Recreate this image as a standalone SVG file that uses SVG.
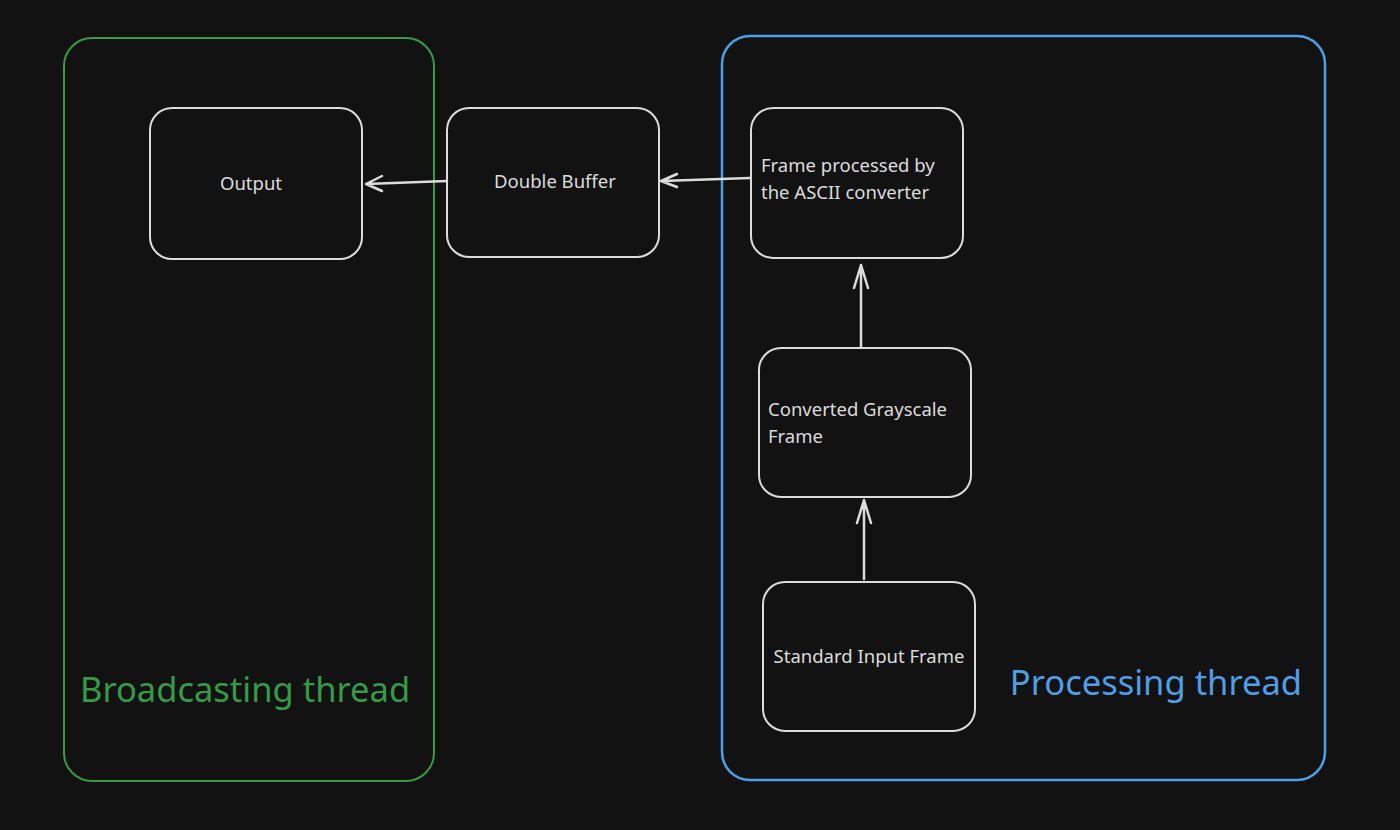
<svg xmlns="http://www.w3.org/2000/svg" width="1400" height="830" viewBox="0 0 1400 830">
<defs>
<style>
.node{fill:none;stroke:#dcdcdc;stroke-width:2}
.lbl{font-family:"Noto Sans","Open Sans",sans-serif;font-size:18.5px;fill:#dcdcdc}
.conn{fill:none;stroke:#dcdcdc;stroke-width:2.5;stroke-linecap:round;stroke-linejoin:round}
.big{font-family:"Noto Sans","Open Sans",sans-serif;font-size:34.5px}
</style>
</defs>
<rect width="1400" height="830" fill="#121212"/>
<g id="broadcasting-thread">
<rect x="64" y="38" width="370" height="743" rx="28" fill="none" stroke="#379a46" stroke-width="2"/>
<text class="big" x="80" y="702" fill="#379a46">Broadcasting thread</text>
</g>
<g id="processing-thread">
<rect x="722" y="36" width="603" height="744" rx="28" fill="none" stroke="#4f9fe6" stroke-width="2.5"/>
<text class="big" x="1302" y="695" fill="#4f9fe6" text-anchor="end">Processing thread</text>
</g>
<g id="connectors">
<path class="conn" d="M447 181 L366 184 M382 176 L366 184 L382 191"/>
<path class="conn" d="M750 178 L661 181 M677 174 L661 181 L677 187"/>
<path class="conn" d="M861 347 L861 265 M854 288 L861 265 L868 288"/>
<path class="conn" d="M864 579 L864 500 M857 523 L864 500 L871 523"/>
</g>
<g id="output">
<rect class="node" x="150" y="108" width="212" height="151" rx="22"/>
<text class="lbl" x="251" y="190" text-anchor="middle">Output</text>
</g>
<g id="double-buffer">
<rect class="node" x="447" y="108" width="212" height="149" rx="22"/>
<text class="lbl" x="555" y="188" text-anchor="middle">Double Buffer</text>
</g>
<g id="frame-processed">
<rect class="node" x="751" y="108" width="212" height="150" rx="22"/>
<text class="lbl" x="761" y="172">Frame processed by</text>
<text class="lbl" x="761" y="199">the ASCII converter</text>
</g>
<g id="converted-grayscale">
<rect class="node" x="759" y="348" width="212" height="149" rx="22"/>
<text class="lbl" x="768" y="416">Converted Grayscale</text>
<text class="lbl" x="768" y="443">Frame</text>
</g>
<g id="standard-input">
<rect class="node" x="763" y="582" width="212" height="149" rx="22"/>
<text class="lbl" x="869" y="663" text-anchor="middle">Standard Input Frame</text>
</g>
</svg>
